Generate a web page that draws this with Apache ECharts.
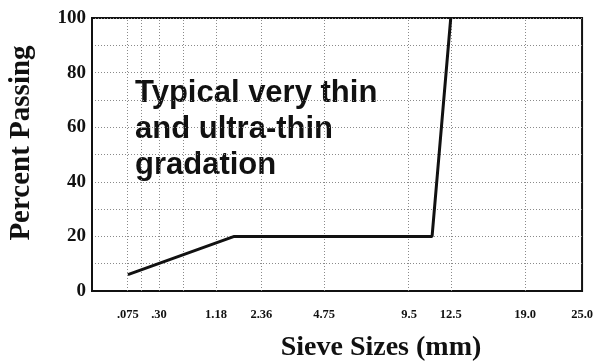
<!DOCTYPE html>
<html>
<head>
<meta charset="utf-8">
<script src="https://cdn.jsdelivr.net/npm/echarts@6/dist/echarts.min.js"></script>
<style>
  html, body { margin: 0; padding: 0; background: #fff; }
  #chart { width: 596px; height: 362px; }
</style>
</head>
<body>
<div id="chart"></div>
<script>
// Gradation curve on a 0.45-power sieve-size scale
const sieveSizes = [0.075, 1.6, 11.1, 12.5];      // mm
const percentPassing = [6, 20, 20, 100];           // %

const sieveLabels = ['.075', '.30', '1.18', '2.36', '4.75', '9.5', '12.5', '19.0', '25.0'];
const sieveLabelSizes = [0.075, 0.30, 1.18, 2.36, 4.75, 9.5, 12.5, 19.0, 25.0];
const sieveGridSizes = [0.075, 0.15, 0.30, 0.60, 1.18, 2.36, 4.75, 9.5, 12.5, 19.0];
const yTicks = [0, 20, 40, 60, 80, 100];

const POWER = 0.45;
const p = s => Math.pow(s, POWER);

const labelPos = sieveLabelSizes.map(p);
const seriesData = sieveSizes.map((s, i) => [p(s), percentPassing[i]]);

const chart = echarts.init(document.getElementById('chart'), null, { renderer: 'canvas' });

chart.setOption({
  animation: false,
  backgroundColor: '#fff',
  grid: { left: 92, right: 13, top: 18, bottom: 71, show: true, borderColor: '#111', borderWidth: 2, backgroundColor: 'transparent' },
  xAxis: {
    type: 'value',
    min: 0,
    max: p(25.0),
    axisLine: { show: true, lineStyle: { color: '#111', width: 2 } },
    axisTick: { show: false },
    splitLine: { show: false },
    axisLabel: {
      customValues: labelPos,
      showMaxLabel: true,
      margin: 17,
      fontFamily: 'Liberation Serif',
      fontWeight: 'bold',
      fontSize: 12.5,
      color: '#111',
      formatter: v => {
        let best = 0;
        labelPos.forEach((lp, i) => { if (Math.abs(lp - v) < Math.abs(labelPos[best] - v)) best = i; });
        return sieveLabels[best];
      }
    }
  },
  yAxis: {
    type: 'value',
    min: 0,
    max: 100,
    interval: 10,
    axisLine: { show: true, lineStyle: { color: '#111', width: 2 } },
    axisTick: { show: false },
    splitLine: { show: true, lineStyle: { color: '#8a8a8a', width: 1, type: [1, 2] } },
    axisLabel: {
      margin: 6,
      fontFamily: 'Liberation Serif',
      fontWeight: 'bold',
      fontSize: 19,
      color: '#111',
      formatter: v => (yTicks.indexOf(v) >= 0 ? String(v) : '')
    }
  },
  series: [{
    type: 'line',
    data: seriesData,
    symbol: 'none',
    lineStyle: { color: '#111', width: 3 },
    z: 5,
    markLine: {
      silent: true,
      symbol: ['none', 'none'],
      label: { show: false },
      lineStyle: { color: '#8a8a8a', width: 1, type: [1, 2] },
      data: sieveGridSizes.map(s => ({ xAxis: p(s) }))
    }
  }],
  graphic: [
    {
      type: 'text',
      left: 135,
      top: 75,
      style: {
        text: 'Typical very thin\nand ultra-thin\ngradation',
        font: 'bold 31px "Liberation Sans", Arial, sans-serif',
        lineHeight: 36,
        fill: '#111'
      }
    },
    {
      type: 'text',
      x: 381,
      y: 348,
      style: {
        text: 'Sieve Sizes (mm)',
        font: 'bold 28px "Liberation Serif", serif',
        align: 'center',
        verticalAlign: 'middle',
        fill: '#111'
      }
    },
    {
      type: 'text',
      x: 22,
      y: 143,
      rotation: Math.PI / 2,
      style: {
        text: 'Percent Passing',
        font: 'bold 29px "Liberation Serif", serif',
        align: 'center',
        verticalAlign: 'middle',
        fill: '#111'
      }
    }
  ]
});
</script>
</body>
</html>
